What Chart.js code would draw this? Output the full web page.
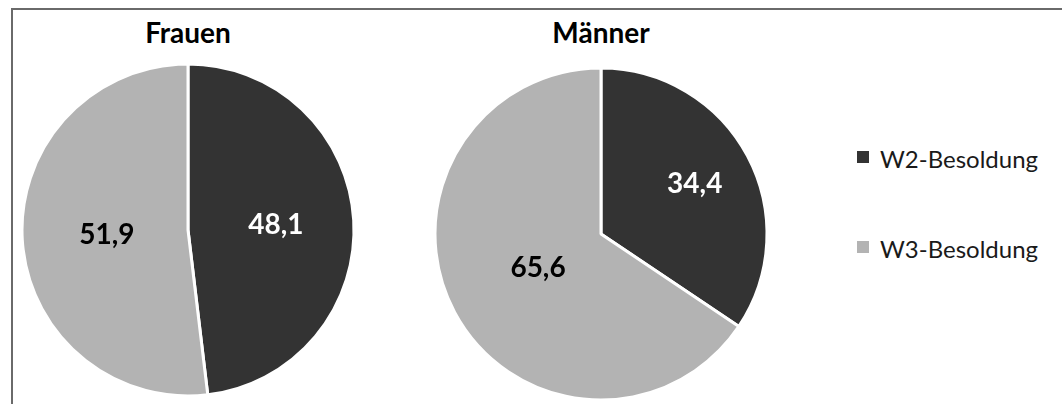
<!DOCTYPE html>
<html lang="de">
<head>
    <meta charset="UTF-8">
    <script src="https://cdn.jsdelivr.net/npm/chart.js"></script>
    <title>W2-/W3-Besoldung</title>
    <style>
        body {
            margin: 0;
            width: 1062px;
            height: 404px;
            overflow: hidden;
            background: #fff;
            font-family: 'Lato', sans-serif;
            position: relative;
        }
        .frame {
            position: absolute;
            left: 11px;
            top: 8px;
            width: 1200px;
            height: 600px;
            border: 2px solid #6a6a6a;
            box-sizing: border-box;
        }
        .pie-box {
            position: absolute;
            width: 340px;
            height: 340px;
        }
        .pie-title {
            position: absolute;
            width: 200px;
            text-align: center;
            font-weight: bold;
            font-size: 28px;
            line-height: 28px;
            color: #000;
        }
        #legend {
            position: absolute;
            left: 857px;
            top: 0;
        }
        .legend-item {
            position: absolute;
            white-space: nowrap;
            font-size: 24px;
            line-height: 24px;
            color: #1a1a1a;
        }
        .legend-item span {
            position: absolute;
            left: 0;
            width: 12px;
            height: 12px;
        }
        .legend-item label {
            position: absolute;
            left: 23px;
            top: -4px;
        }
    </style>
</head>
<body>
    <div class="frame"></div>

    <div class="pie-title" style="left: 88px; top: 18px;">Frauen</div>
    <div class="pie-title" style="left: 501px; top: 18px;">Männer</div>

    <div class="pie-box" style="left: 18px; top: 60px;"><canvas id="pieFrauen"></canvas></div>
    <div class="pie-box" style="left: 431px; top: 64px;"><canvas id="pieMaenner"></canvas></div>

    <div id="legend"></div>

    <script>
        const categories = ['W2-Besoldung', 'W3-Besoldung'];
        const frauenValues = [48.1, 51.9];
        const maennerValues = [34.4, 65.6];

        const sliceColors = ['#333333', '#b3b3b3'];
        const labelColors = ['#ffffff', '#000000'];

        // writes the value into each slice, German decimal comma
        const sliceLabels = {
            id: 'sliceLabels',
            afterDatasetsDraw(chart, args, opts) {
                const ctx = chart.ctx;
                const meta = chart.getDatasetMeta(0);
                const values = chart.data.datasets[0].data;
                ctx.save();
                ctx.font = 'bold 28px Lato';
                ctx.textAlign = 'center';
                ctx.textBaseline = 'middle';
                meta.data.forEach((arc, i) => {
                    const mid = (arc.startAngle + arc.endAngle) / 2;
                    const dist = arc.outerRadius * opts.radius[i];
                    const x = arc.x + Math.cos(mid) * dist;
                    const y = arc.y + Math.sin(mid) * dist;
                    ctx.fillStyle = labelColors[i];
                    ctx.fillText(values[i].toFixed(1).replace('.', ','), x, y);
                });
                ctx.restore();
            }
        };

        function makePie(id, values, labelRadius) {
            return new Chart(document.getElementById(id), {
                type: 'pie',
                data: {
                    labels: categories,
                    datasets: [{
                        data: values,
                        backgroundColor: sliceColors,
                        borderColor: '#ffffff',
                        borderWidth: 3,
                        radius: 166
                    }]
                },
                options: {
                    responsive: true,
                    maintainAspectRatio: false,
                    animation: false,
                    layout: { padding: 0 },
                    plugins: {
                        legend: { display: false },
                        tooltip: { enabled: false },
                        sliceLabels: { radius: labelRadius }
                    }
                },
                plugins: [sliceLabels]
            });
        }

        makePie('pieFrauen', frauenValues, [0.53, 0.49]);
        makePie('pieMaenner', maennerValues, [0.64, 0.43]);

        // legend on the right
        const legend = document.getElementById('legend');
        const legendTops = [151, 241];
        categories.forEach((name, i) => {
            const item = document.createElement('div');
            item.className = 'legend-item';
            item.style.top = legendTops[i] + 'px';
            item.innerHTML = `<span style="background:${sliceColors[i]}"></span><label>${name}</label>`;
            legend.appendChild(item);
        });
    </script>
</body>
</html>
